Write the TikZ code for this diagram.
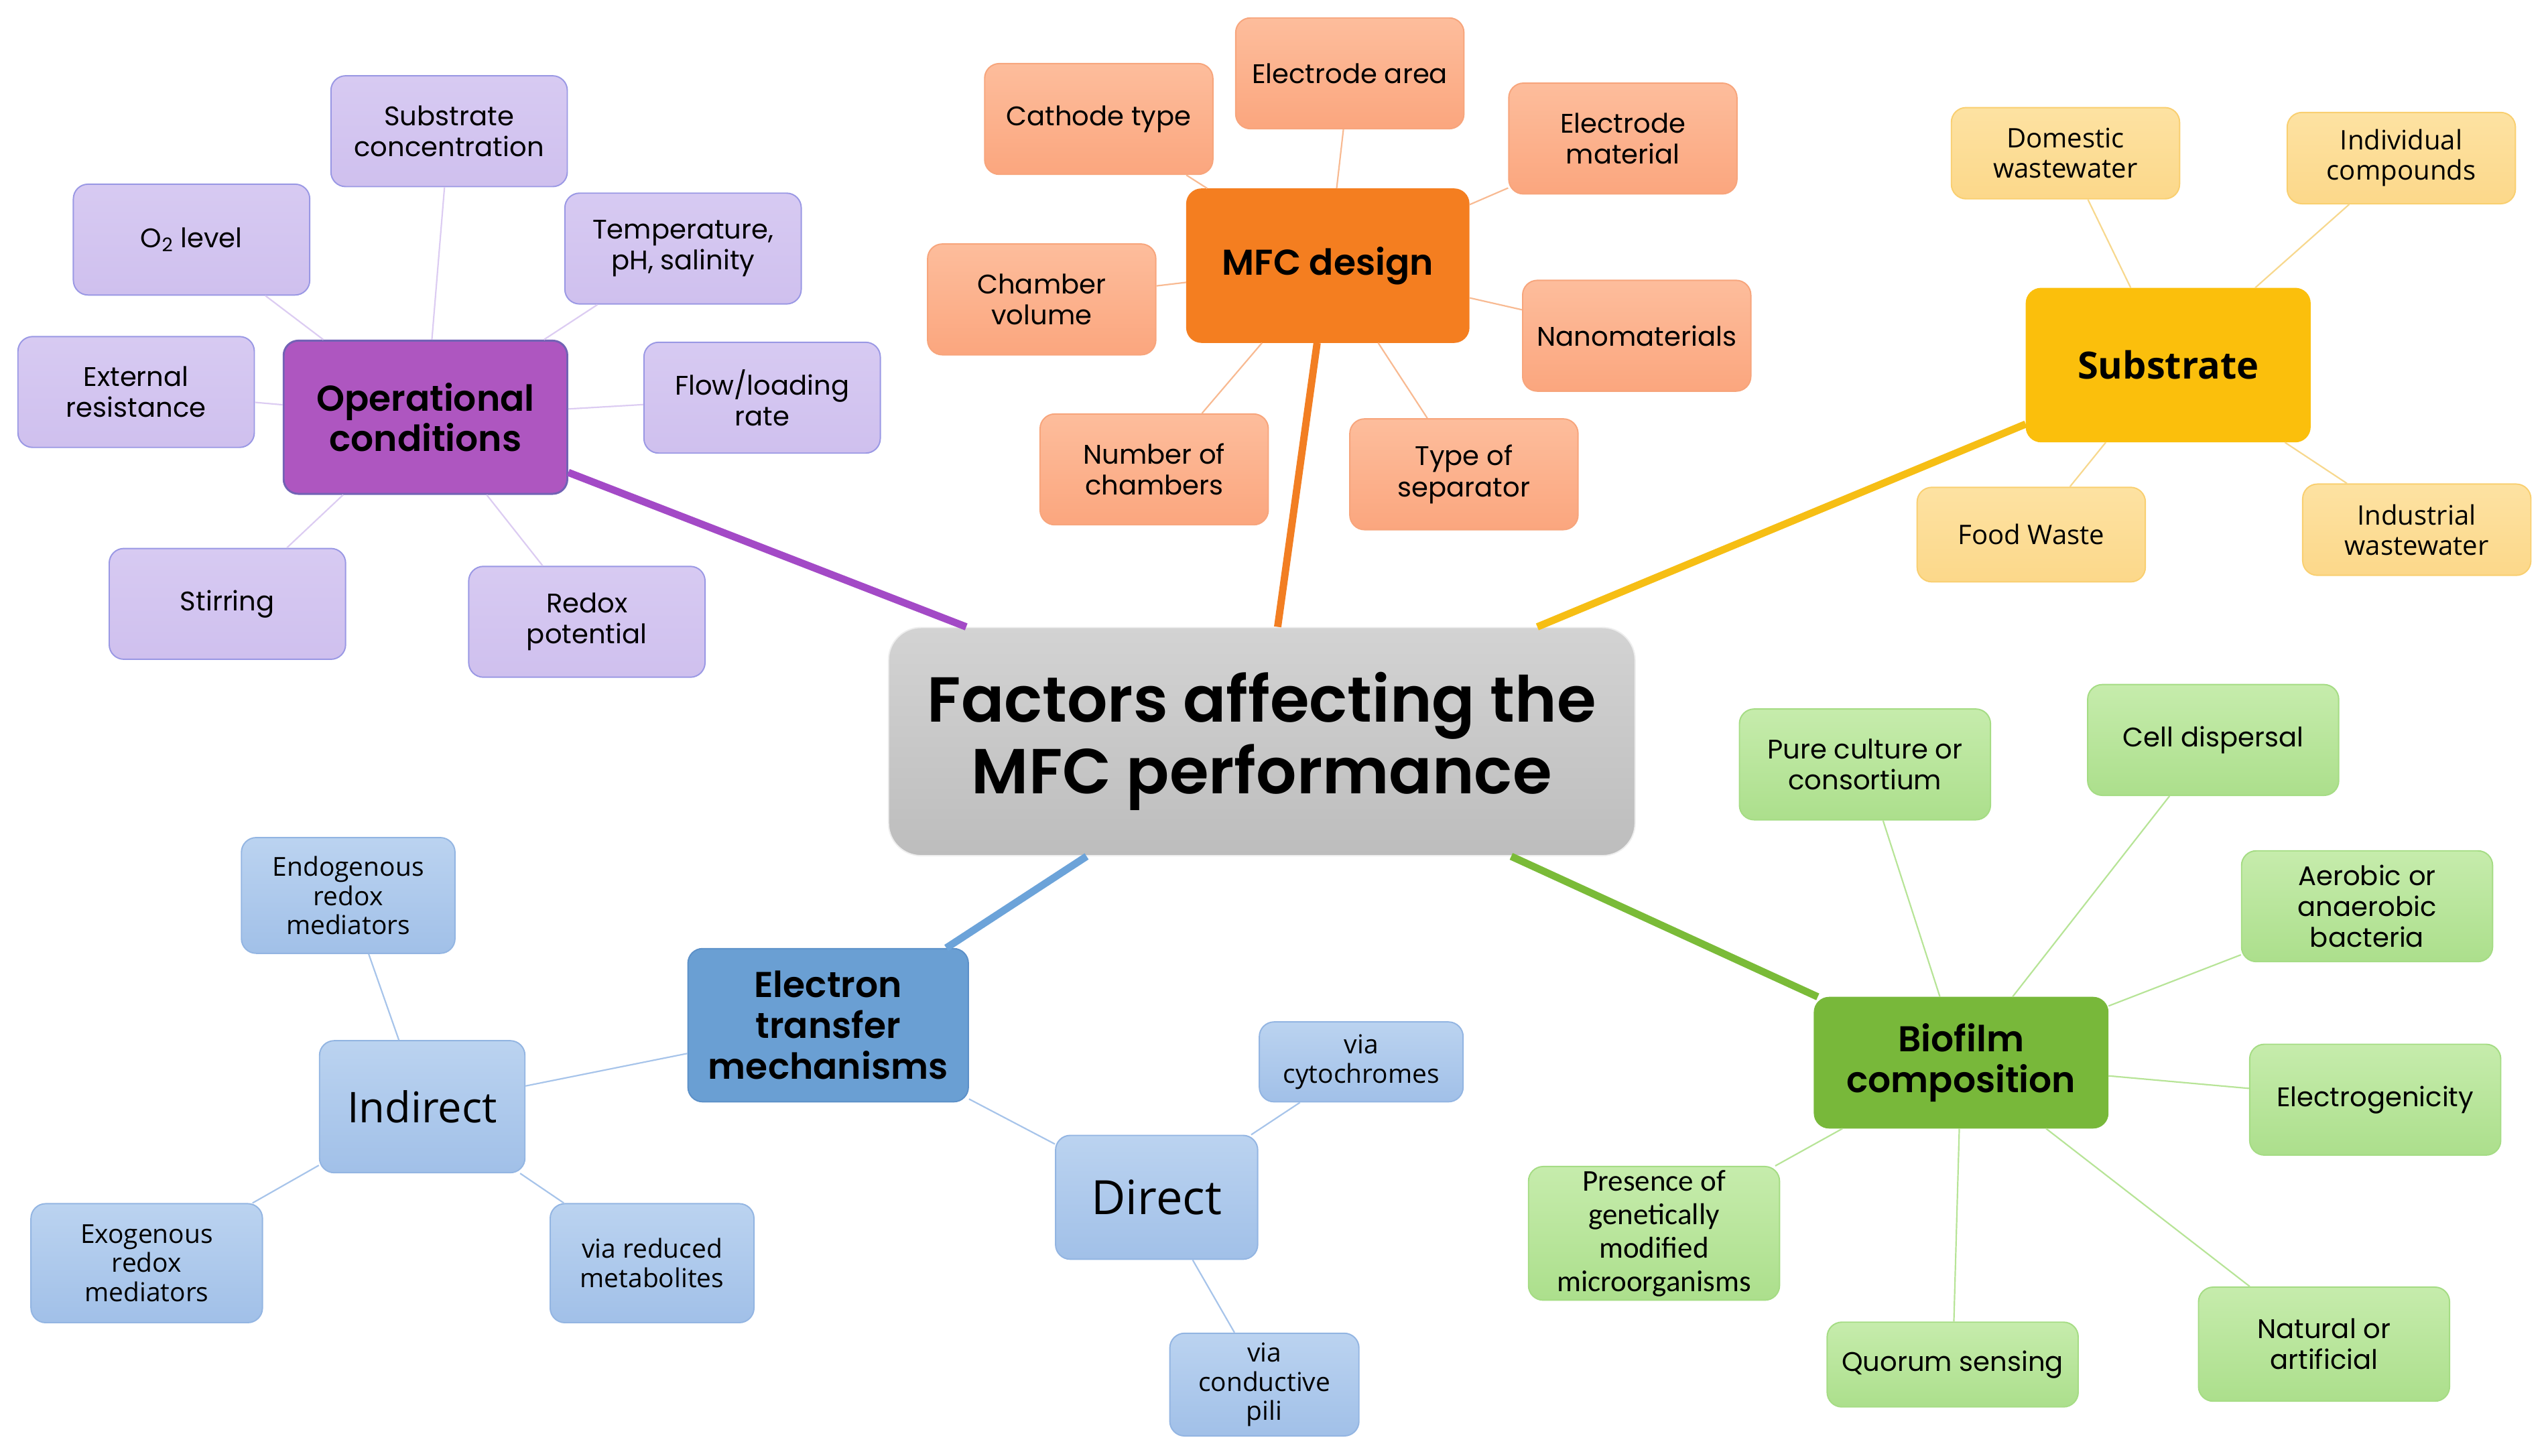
\documentclass[tikz,border=0pt]{standalone}
\usepackage{fontspec}
\setmainfont{Poppins}[BoldFont={Poppins SemiBold}]
\newfontfamily\opensans{Open Sans}
\newfontfamily\carlito{Carlito}

\definecolor{opfill}{HTML}{AE56C0}
\definecolor{opdraw}{HTML}{7262B5}
\definecolor{opthick}{HTML}{A34AC6}
\definecolor{optop}{HTML}{D7CAF2}
\definecolor{opbot}{HTML}{CFC0EE}
\definecolor{opleafdraw}{HTML}{9A98E4}
\definecolor{opthin}{HTML}{DCCCF2}

\definecolor{mfcfill}{HTML}{F47E20}
\definecolor{mfcthick}{HTML}{F27E22}
\definecolor{mfctop}{HTML}{FDBD9C}
\definecolor{mfcbot}{HTML}{FBA67E}
\definecolor{mfcleafdraw}{HTML}{F7A57C}
\definecolor{mfcthin}{HTML}{F8BA92}

\definecolor{subfill}{HTML}{FBBF0C}
\definecolor{subthick}{HTML}{F6BE14}
\definecolor{subtop}{HTML}{FDE2A2}
\definecolor{subbot}{HTML}{FCD88A}
\definecolor{subleafdraw}{HTML}{F9CF70}
\definecolor{subthin}{HTML}{F7D88E}

\definecolor{etmfill}{HTML}{6A9FD3}
\definecolor{etmdraw}{HTML}{5C90C8}
\definecolor{etmthick}{HTML}{6CA3D9}
\definecolor{etmtop}{HTML}{BBD3F0}
\definecolor{etmbot}{HTML}{A1C0E8}
\definecolor{etmleafdraw}{HTML}{93B5E2}
\definecolor{etmthin}{HTML}{A7C4EA}

\definecolor{biofill}{HTML}{78B83A}
\definecolor{biothick}{HTML}{7ABB38}
\definecolor{biotop}{HTML}{C6ECAC}
\definecolor{biobot}{HTML}{ACDF8C}
\definecolor{bioleafdraw}{HTML}{A5DC84}
\definecolor{biothin}{HTML}{B7E497}

\definecolor{centtop}{HTML}{D3D3D3}
\definecolor{centbot}{HTML}{BDBDBD}

\begin{document}
\begin{tikzpicture}[x=1pt,y=1pt,yscale=-1,
  box/.style={rounded corners=9pt, align=center, inner sep=2pt, line width=0.8pt},
  hub/.style={box, font=\fontsize{22}{25}\selectfont\bfseries, minimum width=174pt, minimum height=94pt},
  leaf/.style={box, font=\fontsize{16.5}{19}\selectfont, minimum width=145pt, minimum height=68pt},
  opleaf/.style={leaf, draw=opleafdraw, top color=optop, bottom color=opbot},
  mfcleaf/.style={leaf, draw=mfcleafdraw, top color=mfctop, bottom color=mfcbot, minimum width=140pt},
  subleaf/.style={leaf, draw=subleafdraw, top color=subtop, bottom color=subbot, minimum width=140pt, minimum height=56pt, font=\fontsize{16.5}{18.5}\selectfont\opensans},
  etmleaf/.style={leaf, draw=etmleafdraw, top color=etmtop, bottom color=etmbot, font=\fontsize{16}{18}\selectfont\opensans},
  bioleaf/.style={leaf, draw=bioleafdraw, top color=biotop, bottom color=biobot, minimum width=154pt},
  thick/.style={line width=4.5pt},
  thin/.style={line width=0.9pt}
]
\useasboundingbox (0,0) rectangle (1563,893.3);

% centre
\node[box, draw=centbot!90!black!20, top color=centtop, bottom color=centbot, rounded corners=20pt,
  minimum width=458pt, minimum height=140pt, font=\fontsize{39}{44}\selectfont\bfseries]
  (centre) at (774,455) {Factors affecting the\\MFC performance};

% operational conditions
\node[hub, fill=opfill, draw=opdraw, line width=1.2pt] (op) at (261,256) {Operational\\conditions};
\node[opleaf] (subconc) at (275.5,80.5) {Substrate\\concentration};
\node[opleaf] (o2) at (117.5,147) {O\textsubscript{2} level};
\node[opleaf] (temp) at (419,152.5) {Temperature,\\pH, salinity};
\node[opleaf] (extres) at (83.5,240.5) {External\\resistance};
\node[opleaf] (flow) at (467.5,244) {Flow/loading\\rate};
\node[opleaf] (stir) at (139.5,370.5) {Stirring};
\node[opleaf] (redox) at (360,381.5) {Redox\\potential};

% MFC design
\node[hub, fill=mfcfill, draw=mfcfill, minimum width=173pt] (mfc) at (814.5,163) {MFC design};
\node[mfcleaf] (elarea) at (828,45) {Electrode area};
\node[mfcleaf] (cathode) at (674,73) {Cathode type};
\node[mfcleaf] (elmat) at (995.5,85) {Electrode\\material};
\node[mfcleaf] (chamber) at (639,183.7) {Chamber\\volume};
\node[mfcleaf] (nano) at (1004,206) {Nanomaterials};
\node[mfcleaf] (number) at (708,288) {Number of\\chambers};
\node[mfcleaf] (separator) at (898,291) {Type of\\separator};

% substrate
\node[hub, fill=subfill, draw=subfill, font=\fontsize{23}{26}\selectfont\bfseries\opensans] (sub) at (1330,224) {Substrate};
\node[subleaf] (domestic) at (1267,94) {Domestic\\wastewater};
\node[subleaf] (individual) at (1473,97) {Individual\\compounds};
\node[subleaf, minimum height=58pt] (food) at (1246,328) {Food Waste};
\node[subleaf] (industrial) at (1482.5,325) {Industrial\\wastewater};

% electron transfer mechanisms
\node[hub, fill=etmfill, draw=etmdraw, minimum width=172pt] (etm) at (508,629) {Electron\\transfer\\mechanisms};
\node[etmleaf, minimum width=126pt, minimum height=81pt, font=\fontsize{26}{30}\selectfont\opensans] (ind) at (259,679) {Indirect};
\node[etmleaf, minimum width=124pt, minimum height=76pt, font=\fontsize{29}{32}\selectfont\opensans] (dir) at (709.5,734.6) {Direct};
\node[etmleaf, minimum width=131pt, minimum height=71pt] (endo) at (213.6,549.4) {Endogenous\\redox\\mediators};
\node[etmleaf, minimum width=142pt, minimum height=73pt] (exo) at (90,775) {Exogenous\\redox\\mediators};
\node[etmleaf, minimum width=125pt, minimum height=73pt] (reduced) at (400,775) {via reduced\\metabolites};
\node[etmleaf, minimum width=125pt, minimum height=49pt] (cyto) at (835,651.5) {via\\cytochromes};
\node[etmleaf, minimum width=116pt, minimum height=63pt] (pili) at (775.6,849.5) {via\\conductive\\pili};

% biofilm composition
\node[hub, fill=biofill, draw=biofill, minimum width=180pt, minimum height=80pt] (bio) at (1203,652) {Biofilm\\composition};
\node[bioleaf] (pure) at (1144,469) {Pure culture or\\consortium};
\node[bioleaf] (cell) at (1357.6,454) {Cell dispersal};
\node[bioleaf] (aerobic) at (1452,556) {Aerobic or\\anaerobic\\bacteria};
\node[bioleaf] (electro) at (1457,674.7) {Electrogenicity};
\node[bioleaf, minimum height=82pt, font=\fontsize{18.5}{20.5}\selectfont\carlito] (presence) at (1014.6,756.7) {Presence of\\genetically\\modified\\microorganisms};
\node[bioleaf, minimum height=52pt] (quorum) at (1197.8,837.2) {Quorum sensing};
\node[bioleaf, minimum height=70pt] (natural) at (1425.6,824.7) {Natural or\\artificial};

% main branches
\draw[thick, opthick] (op) -- (centre);
\draw[thick, mfcthick] (mfc) -- (centre);
\draw[thick, subthick] (sub) -- (centre);
\draw[thick, etmthick] (etm) -- (centre);
\draw[thick, biothick] (bio) -- (centre);

% sub branches
\foreach \n in {subconc,o2,temp,extres,flow,stir,redox}
  \draw[thin, opthin] (op) -- (\n);
\foreach \n in {elarea,cathode,elmat,chamber,nano,number,separator}
  \draw[thin, mfcthin] (mfc) -- (\n);
\foreach \n in {domestic,individual,food,industrial}
  \draw[thin, subthin] (sub) -- (\n);
\foreach \n in {ind,dir}
  \draw[thin, etmthin] (etm) -- (\n);
\foreach \n in {endo,exo,reduced}
  \draw[thin, etmthin] (ind) -- (\n);
\foreach \n in {cyto,pili}
  \draw[thin, etmthin] (dir) -- (\n);
\foreach \n in {pure,cell,aerobic,electro,presence,quorum,natural}
  \draw[thin, biothin] (bio) -- (\n);

\end{tikzpicture}
\end{document}
